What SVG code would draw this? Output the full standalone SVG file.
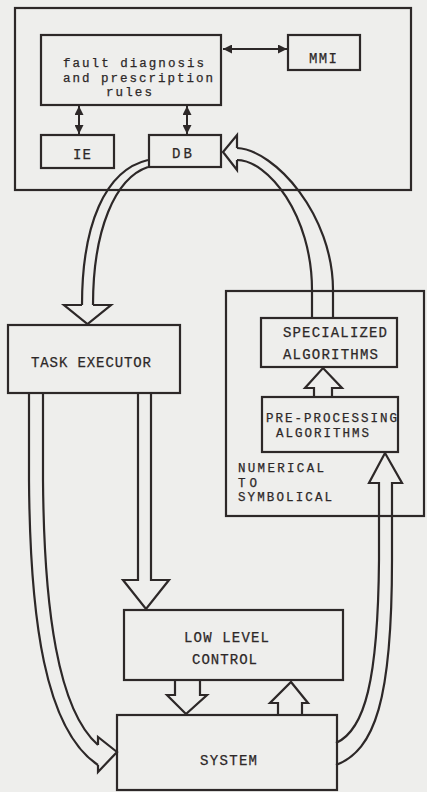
<svg xmlns="http://www.w3.org/2000/svg" width="427" height="792" viewBox="0 0 427 792">
<defs>
<style>
.bg{fill:#eeeeec}
.box{fill:none;stroke:#2d2828;stroke-width:2.2}
.ln{fill:none;stroke:#2d2828;stroke-width:2.2;stroke-linejoin:miter}
.thin{fill:none;stroke:#2d2828;stroke-width:2}
.t{font-family:"Liberation Mono","Courier New",monospace;font-size:14px;fill:#2d2828;stroke:#2d2828;stroke-width:0.25}
.s{font-size:12.5px}
</style>
<marker id="ah" viewBox="0 0 10 10" refX="10" refY="5" markerWidth="10" markerHeight="9" markerUnits="userSpaceOnUse" orient="auto-start-reverse">
<path d="M0,0 L10,5 L0,10 Z" fill="#2d2828"/>
</marker>
</defs>
<rect class="bg" x="0" y="0" width="427" height="792"/>

<g id="expert-system">
<rect class="box" x="15" y="8" width="396" height="182"/>
</g>
<g id="rules">
<rect class="box" x="41" y="35" width="180" height="70"/>
<text class="t s" x="63" y="67" textLength="141" lengthAdjust="spacing">fault diagnosis</text>
<text class="t s" x="63" y="81.5" textLength="150" lengthAdjust="spacing">and prescription</text>
<text class="t s" x="106" y="96" textLength="46" lengthAdjust="spacing">rules</text>
</g>
<g id="mmi">
<rect class="box" x="288" y="35" width="72" height="35"/>
<text class="t" x="309" y="63" textLength="28" lengthAdjust="spacing">MMI</text>
</g>
<g id="ie">
<rect class="box" x="41" y="135" width="73" height="33"/>
<text class="t" x="73" y="159" textLength="18" lengthAdjust="spacing">IE</text>
</g>
<g id="db">
<rect class="box" x="149" y="135" width="72" height="32"/>
<text class="t" x="172" y="158" textLength="20" lengthAdjust="spacing">DB</text>
</g>
<g id="task-executor">
<rect class="box" x="8" y="325" width="172" height="68"/>
<text class="t" x="31" y="367" textLength="120" lengthAdjust="spacing">TASK EXECUTOR</text>
</g>
<g id="numerical-to-symbolical">
<rect class="box" x="226" y="291" width="198" height="225"/>
<text class="t s" x="238" y="472" textLength="86" lengthAdjust="spacing">NUMERICAL</text>
<text class="t s" x="238" y="486.5" textLength="19" lengthAdjust="spacing">TO</text>
<text class="t s" x="238" y="501" textLength="94" lengthAdjust="spacing">SYMBOLICAL</text>
</g>
<g id="specialized">
<rect class="box" x="261" y="318" width="136" height="49"/>
<text class="t" x="283" y="337" textLength="104" lengthAdjust="spacing">SPECIALIZED</text>
<text class="t" x="283" y="359" textLength="95" lengthAdjust="spacing">ALGORITHMS</text>
</g>
<g id="pre-processing">
<rect class="box" x="262" y="397" width="136" height="55"/>
<text class="t s" x="266" y="422" textLength="131" lengthAdjust="spacing">PRE-PROCESSING</text>
<text class="t s" x="276" y="436.5" textLength="93" lengthAdjust="spacing">ALGORITHMS</text>
</g>
<g id="low-level-control">
<rect class="box" x="124" y="610" width="219" height="70"/>
<text class="t" x="184" y="642" textLength="85" lengthAdjust="spacing">LOW LEVEL</text>
<text class="t" x="192" y="664" textLength="65" lengthAdjust="spacing">CONTROL</text>
</g>
<g id="system">
<rect class="box" x="117" y="715" width="220" height="75"/>
<text class="t" x="200" y="765" textLength="57" lengthAdjust="spacing">SYSTEM</text>
</g>

<g id="connectors">
<line class="thin" x1="223" y1="49" x2="287" y2="49" marker-start="url(#ah)" marker-end="url(#ah)"/>
<line class="thin" x1="79" y1="106" x2="79" y2="134" marker-start="url(#ah)" marker-end="url(#ah)"/>
<line class="thin" x1="187" y1="106" x2="187" y2="134" marker-start="url(#ah)" marker-end="url(#ah)"/>

<path class="ln" d="M148,160 C105,170 82,225 82,305"/>
<path class="ln" d="M148,167 C115,178 93,230 93,305"/>
<path class="ln" d="M82,305 L64,305 L87.5,324 L111,305 L93,305"/>

<path class="ln" d="M237,148 C275,150 333,215 333,290 L333,318"/>
<path class="ln" d="M237,160 C268,160 312,215 312,290 L312,318"/>
<path class="ln" d="M237,148 L237,135 L223,152 L237,170 L237,160"/>

<path class="ln" d="M314,397 L314,388 L305,388 L323,368 L342,388 L332,388 L332,397"/>

<path class="ln" d="M138,393 L138,580 L123,580 L146,609 L169,580 L151,580 L151,393"/>

<path class="ln" d="M29,393 L29,480 C30,620 45,730 98,765"/>
<path class="ln" d="M43,393 L43,480 C44,610 58,710 98,745"/>
<path class="ln" d="M98,745 L98,737 L117,752 L98,772 L98,765"/>

<path class="ln" d="M175,680 L175,695 L167,695 L186,714 L207,695 L200,695 L200,680"/>
<path class="ln" d="M278,715 L278,703 L270,703 L291,682 L308,703 L302,703 L302,715"/>

<path class="ln" d="M336,743 C365,730 378,680 379,560 L379,483 L369,483 L385,453 L402,483 L392,483 L392,560 C392,700 375,750 336,765"/>
</g>
</svg>
